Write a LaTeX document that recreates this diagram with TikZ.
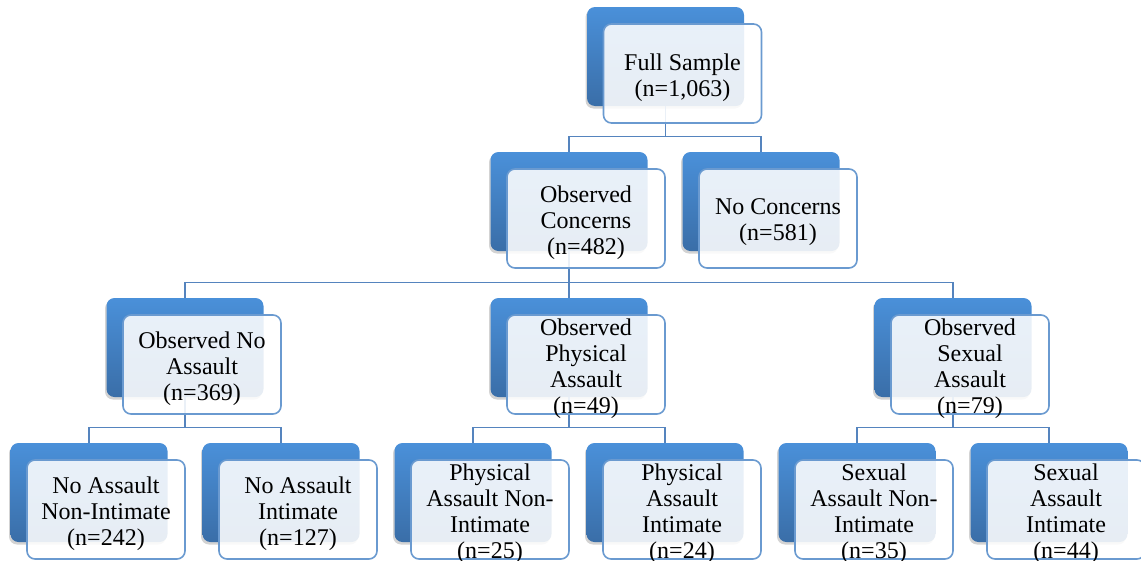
\documentclass[tikz,border=0pt]{standalone}
\usepackage{fontspec}
\setmainfont{Liberation Serif}
\usetikzlibrary{shadows}
\definecolor{boxtop}{HTML}{4A90D9}
\definecolor{boxbottom}{HTML}{3A6EA8}
\definecolor{boxline}{HTML}{6A9AD0}
\definecolor{busline}{HTML}{5584BE}
\begin{document}
\begin{tikzpicture}
[x=1pt,y=-1pt,
  backdecorate/.style={shape=rectangle,rounded corners=8pt,minimum width=157pt,minimum height=99pt,
    top color=boxtop,bottom color=boxbottom,draw=none,
    drop shadow={shadow xshift=-1.5pt,shadow yshift=-2.5pt,opacity=0.35}},%
  frontdecorate/.style={shape=rectangle,rounded corners=8pt,minimum width=158pt,minimum height=99pt,
    inner sep=0pt,draw=boxline,line width=1.6pt,fill=white,fill opacity=0.88},%
  textdecorate/.style={inner sep=0pt,align=center,font=\fontsize{24}{26}\selectfont},%
  linedecorate/.style={-,draw=busline,line width=1.3pt}]
\useasboundingbox (0,0) rectangle (1141,560);
%% back boxes
\foreach \nodename/\x/\y in {full/665.5/56.5, obscon/569/201.5, nocon/761/201.5,
  obsno/185/347.5, obsphys/569/347.5, obssex/953/347.5,
  nani/89/492.5, nai/281/492.5, pani/473/492.5, pai/665/492.5, sani/857/492.5, sai/1049/492.5} {
  \node (\nodename) at (\x,\y) [backdecorate] {};
}
%% connectors
\foreach \startnode/\endnode in {full/obscon, full/nocon, obscon/obsno, obscon/obsphys, obscon/obssex,
  obsno/nani, obsno/nai, obsphys/pani, obsphys/pai, obssex/sani, obssex/sai} {
  \draw[linedecorate] (\startnode.south) |- ([yshift=15pt]\endnode.north) -- (\endnode.north);
}
%% front boxes and their text
\foreach \nodename/\txt in {full/{Full Sample\\(n=1,063)}, obscon/{Observed\\Concerns\\(n=482)},
  nocon/{No Concerns\\(n=581)}, obsno/{Observed No\\Assault\\(n=369)},
  obsphys/{Observed\\Physical\\Assault\\(n=49)}, obssex/{Observed\\Sexual\\Assault\\(n=79)},
  nani/{No Assault\\Non-Intimate\\(n=242)}, nai/{No Assault\\Intimate\\(n=127)},
  pani/{Physical\\Assault Non-\\Intimate\\(n=25)}, pai/{Physical\\Assault\\Intimate\\(n=24)},
  sani/{Sexual\\Assault Non-\\Intimate\\(n=35)}, sai/{Sexual\\Assault\\Intimate\\(n=44)}} {
  \node (\nodename-f) at ([shift={(17pt,-17pt)}]\nodename.center) [frontdecorate] {};
  \node (\nodename-t) at ([yshift=-4pt]\nodename-f.center) [textdecorate] {\txt};
}
\end{tikzpicture}
\end{document}
